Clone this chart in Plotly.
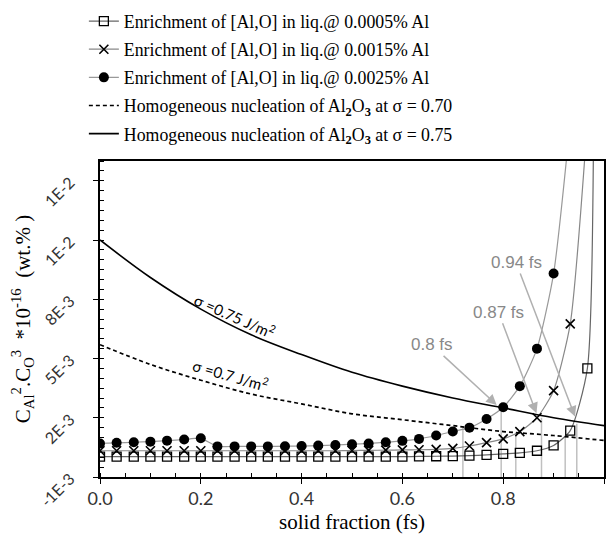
import plotly.graph_objects as go

# ---------------- data ----------------
fs_marks = [0.0, 0.033, 0.067, 0.1, 0.133, 0.167, 0.2, 0.233, 0.267, 0.3,
            0.333, 0.367, 0.4, 0.433, 0.467, 0.5, 0.533, 0.567, 0.6, 0.633,
            0.667, 0.7, 0.733, 0.767, 0.8, 0.833, 0.867, 0.9, 0.933, 0.967, 0.98]

al_0005 = [0.00003, 0.00003, 0.00003, 0.00003, 0.00003, 0.00003, 0.00003, 0.00003,
           0.00003, 0.00003, 0.00003, 0.00003, 0.00003, 0.00003, 0.00003, 0.00003,
           0.00003, 0.00003, 0.00003, 0.00004, 0.00005, 0.00006, 0.00008, 0.00012,
           0.00017, 0.00022, 0.00033, 0.0006, 0.00135, 0.0045, 0.031]

al_0015 = [0.00033, 0.00033, 0.00033, 0.00033, 0.00033, 0.00033, 0.00033, 0.00033,
           0.00033, 0.00033, 0.00033, 0.00033, 0.00033, 0.00033, 0.00033, 0.00034,
           0.00035, 0.00036, 0.00037, 0.00038, 0.0004, 0.00045, 0.00057, 0.00074,
           0.00093, 0.0013, 0.0020, 0.00337, 0.00675, 0.017]

al_0025 = [0.0007, 0.00073, 0.00076, 0.00079, 0.00084, 0.0009, 0.00096, 0.00055,
           0.00055, 0.00055, 0.00055, 0.00056, 0.00057, 0.00059, 0.00062, 0.00066,
           0.0007, 0.00076, 0.00083, 0.00093, 0.0011, 0.0013, 0.0015, 0.00194,
           0.00253, 0.0036, 0.0055, 0.0093, 0.017]

fs_curve = [0.0, 0.1, 0.2, 0.3, 0.4, 0.5, 0.6, 0.7, 0.8, 0.9, 1.0]
sigma_075 = [0.0110, 0.0091, 0.0075, 0.0062, 0.0052, 0.0043, 0.0036, 0.0030, 0.0025, 0.0020, 0.0016]
sigma_070 = [0.0057, 0.0047, 0.0039, 0.0032, 0.0027, 0.0022, 0.0019, 0.0016, 0.0013, 0.0011, 0.00085]

drop_fs = [0.72, 0.796, 0.825, 0.876, 0.923, 0.946]
drop_top = [0.0015, 0.0025, 0.00125, 0.0020, 0.00102, 0.0017]

arrow_labels = ["0.8 fs", "0.87 fs", "0.94 fs"]
arrow_fs = [0.787, 0.866, 0.9425]
arrow_val = [0.00265, 0.00223, 0.00206]

y_tickvals = [-0.001, 0.002, 0.005, 0.008, 0.011, 0.014]
y_ticktext = ["-1E-3", "2E-3", "5E-3", "8E-3", "1E-2", "1E-2"]
x_tickvals = [0.0, 0.2, 0.4, 0.6, 0.8, 1.0]
x_ticktext = ["0.0", "0.2", "0.4", "0.6", "0.8", "1.0"]

names = [
    "Enrichment of [Al,O] in liq.@ 0.0005% Al",
    "Enrichment of [Al,O] in liq.@ 0.0015% Al",
    "Enrichment of [Al,O] in liq.@ 0.0025% Al",
    "Homogeneous nucleation of Al<b><sub>2</sub></b>O<b><sub>3</sub></b> at σ = 0.70",
    "Homogeneous nucleation of Al<b><sub>2</sub></b>O<b><sub>3</sub></b> at σ = 0.75",
]

# ---------------- figure ----------------
fig = go.Figure()

# drop lines
for f, t in zip(drop_fs, drop_top):
    fig.add_trace(go.Scatter(x=[f, f], y=[-0.001, t], mode="lines",
                             line=dict(color="#c0c0c0", width=1.5),
                             showlegend=False, hoverinfo="skip"))

fig.add_trace(go.Scatter(
    x=fs_marks[:len(al_0005)], y=al_0005, name=names[0], legendgroup="a",
    mode="lines+markers", line=dict(color="#666666", width=1.2, shape="spline", smoothing=0.6),
    marker=dict(symbol="square-open", size=9, color="black", line=dict(width=1.3))))
fig.add_trace(go.Scatter(
    x=fs_marks[:len(al_0015)], y=al_0015, name=names[1], legendgroup="b",
    mode="lines+markers", line=dict(color="#888888", width=1.2, shape="spline", smoothing=0.6),
    marker=dict(symbol="x-thin", size=9, color="black", line=dict(width=1.6, color="black"))))
fig.add_trace(go.Scatter(
    x=fs_marks[:len(al_0025)], y=al_0025, name=names[2], legendgroup="c",
    mode="lines+markers", line=dict(color="#999999", width=1.2, shape="spline", smoothing=0.6),
    marker=dict(symbol="circle", size=10, color="black")))
fig.add_trace(go.Scatter(
    x=fs_curve, y=sigma_070, name=names[3], legendgroup="d",
    mode="lines", line=dict(color="black", width=1.7, dash="4px,3px", shape="spline")))
fig.add_trace(go.Scatter(
    x=fs_curve, y=sigma_075, name=names[4], legendgroup="e",
    mode="lines", line=dict(color="black", width=1.6, shape="spline")))

# curve labels
fig.add_annotation(x=0.268, y=0.0072, xref="x", yref="y", text="σ =0.75 J/m<sup>2</sup>",
                   showarrow=False, textangle=24, font=dict(family="Lato", size=15, color="black"))
fig.add_annotation(x=0.258, y=0.0042, xref="x", yref="y", text="σ =0.7 J/m<sup>2</sup>",
                   showarrow=False, textangle=16, font=dict(family="Lato", size=15, color="black"))

# arrow labels
offsets = [(-65, -60), (-38, -101), (-59, -154)]
for lab, f, v, (axp, ayp) in zip(arrow_labels, arrow_fs, arrow_val, offsets):
    fig.add_annotation(x=f, y=v, xref="x", yref="y", text=lab, showarrow=True,
                       ax=axp, ay=ayp, arrowhead=2, arrowsize=1.4, arrowwidth=1.5,
                       arrowcolor="#b0b0b0",
                       font=dict(family="Liberation Sans", size=17, color="#888888"))

fig.update_layout(
    width=616, height=543,
    margin=dict(l=100, r=12, t=161, b=66, autoexpand=False),
    paper_bgcolor="white", plot_bgcolor="white",
    showlegend=True,
    legend=dict(x=-0.032, y=1.5, xanchor="left", yanchor="top",
                font=dict(family="Liberation Serif", size=17.8, color="black"),
                tracegroupgap=2, bgcolor="rgba(0,0,0,0)", itemwidth=30),
    xaxis=dict(range=[0, 1.0], tickvals=x_tickvals, ticktext=x_ticktext,
               showgrid=False, zeroline=False, showline=True, linecolor="black", linewidth=1.5,
               mirror=True, ticks="outside", ticklen=5, tickcolor="black", tickwidth=1.2,
               minor=dict(dtick=0.05, ticks="inside", ticklen=4, tickcolor="black"),
               tickfont=dict(family="Lato", size=18, color="#333333"),
               title=dict(text="solid fraction (fs)", standoff=6,
                          font=dict(family="Liberation Serif", size=21, color="black"))),
    yaxis=dict(range=[-0.001, 0.015], tickvals=y_tickvals, ticktext=y_ticktext, tickangle=-45,
               showgrid=False, zeroline=False, showline=True, linecolor="black", linewidth=1.5,
               mirror=True, ticks="outside", ticklen=5, tickcolor="black", tickwidth=1.2,
               minor=dict(dtick=0.0005, ticks="inside", ticklen=4, tickcolor="black"),
               ticklabelstandoff=20,
               tickfont=dict(family="Lato", size=16, color="#333333"),
               title=dict(text="C<sub>Al</sub><sup>2</sup>.C<sub>O</sub><sup>3</sup>  *10<sup>-16</sup>  (wt.% )",
                          standoff=0,
                          font=dict(family="Liberation Serif", size=21, color="black"))),
)

fig.write_html("out.html")
